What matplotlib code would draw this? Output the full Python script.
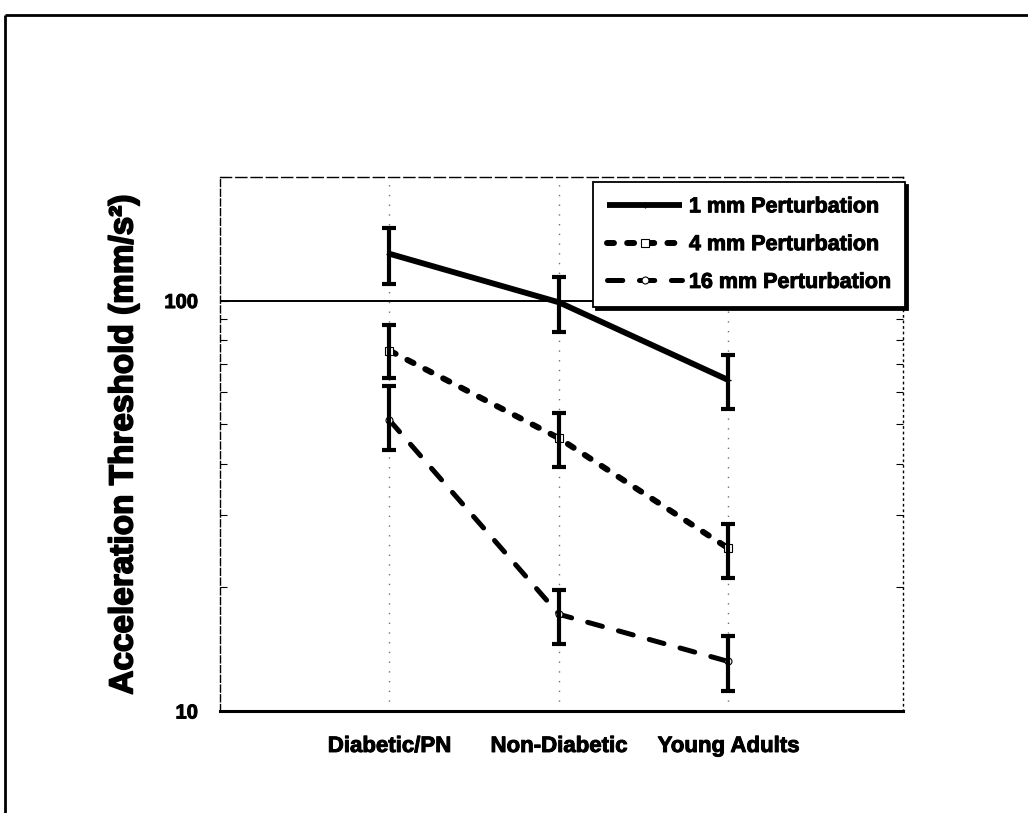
import numpy as np
import matplotlib.pyplot as plt
import matplotlib.patheffects as pe
from matplotlib.lines import Line2D
from matplotlib.ticker import FixedLocator, NullFormatter, LogLocator

plt.rcParams['font.family'] = ['Liberation Sans', 'DejaVu Sans']
plt.rcParams['font.weight'] = 'bold'
plt.rcParams['lines.scale_dashes'] = False

groups = ["Diabetic/PN", "Non-Diabetic", "Young Adults"]

# mean thresholds (mm/s^2) and error bar extents below / above the mean
mm1 = [130, 99, 64]
mm1_lo = [20, 15, 9.7]
mm1_hi = [20, 15, 9.5]

mm4 = [75.5, 46.2, 24.9]
mm4_lo = [10.9, 6.9, 3.8]
mm4_hi = [11.5, 6.9, 3.6]

mm16 = [51.1, 17.2, 13.2]
mm16_lo = [7.9, 2.6, 2.0]
mm16_hi = [10.7, 2.5, 2.0]

labels = ["1 mm Perturbation", "4 mm Perturbation", "16 mm Perturbation"]

heavy = [pe.withStroke(linewidth=0.7, foreground='black')]

fig = plt.figure(figsize=(10.28, 8.13), dpi=100)
ax = fig.add_axes([0.214, 0.1255, 0.6644, 0.6568])

x = np.arange(1, len(groups) + 1)

ax.plot(x, mm1, color='black', lw=4.2, linestyle='-', marker='+', ms=4,
        mew=1, label=labels[0], solid_capstyle='butt', zorder=3)
ax.plot(x, mm4, color='black', lw=4.3, linestyle=(0, (5, 9.5)),
        dash_capstyle='round', marker='s', ms=6, mfc='white', mec='black',
        mew=0.8, label=labels[1], zorder=3)
ax.plot(x, mm16, color='black', lw=3.6, linestyle=(0, (11, 12)),
        dash_capstyle='round', marker='o', ms=5, mfc='white', mec='black',
        mew=0.8, label=labels[2], zorder=3)

for vals, lo, hi in [(mm1, mm1_lo, mm1_hi), (mm4, mm4_lo, mm4_hi),
                     (mm16, mm16_lo, mm16_hi)]:
    ax.errorbar(x, vals, yerr=[lo, hi], fmt='none', ecolor='black',
                elinewidth=3.0, capsize=4.8, capthick=3.0, zorder=4)

ax.set_yscale('log')
ax.set_ylim(10, 200)
ax.set_xlim(0, 4.03)

ax.yaxis.set_major_locator(FixedLocator([10, 100]))
ax.yaxis.set_major_formatter(plt.FuncFormatter(lambda v, p: f"{v:g}"))
ax.yaxis.set_minor_locator(LogLocator(base=10, subs=np.arange(2, 10)))
ax.yaxis.set_minor_formatter(NullFormatter())
ax.tick_params(axis='y', which='both', direction='in', left=True,
               right=True, labelsize=14.5, pad=16, width=0.8)
ax.tick_params(axis='y', which='major', length=6)
ax.tick_params(axis='y', which='minor', length=5)

ax.set_xticks(x)
ax.set_xticklabels(groups)
ax.tick_params(axis='x', length=0, labelsize=16, pad=18)

for t in ax.get_xticklabels() + ax.get_yticklabels():
    t.set_path_effects(heavy)

ax.axhline(100, color='black', lw=1.4, zorder=1)
ax.grid(axis='x', color='0.45', linestyle=(0, (1, 6)), lw=1)

ax.spines['top'].set_linestyle((0, (8, 3)))
ax.spines['top'].set_linewidth(1.0)
ax.spines['left'].set_linestyle((0, (5, 2)))
ax.spines['left'].set_linewidth(1.0)
ax.spines['right'].set_linestyle((0, (1, 3)))
ax.spines['right'].set_linewidth(1.0)
ax.spines['bottom'].set_linewidth(2.2)

ax.set_ylabel("Acceleration Threshold (mm/s²)", fontsize=24,
              fontweight='bold', labelpad=18,
              path_effects=[pe.withStroke(linewidth=1.2, foreground='black')])

leg = ax.legend(loc='upper right', bbox_to_anchor=(1.003, 0.99),
                borderaxespad=0, fontsize=15.5, handlelength=3.5,
                labelspacing=0.78, handletextpad=0.3, borderpad=0.65,
                fancybox=False, edgecolor='black', framealpha=1,
                shadow={'color': 'black', 'alpha': 1})
leg.get_frame().set_linewidth(1.3)
for t in leg.get_texts():
    t.set_path_effects(heavy)

# page frame along the top and left edges only
fig.add_artist(Line2D([0.005, 1.0], [0.9815, 0.9815], color='black', lw=2,
                      solid_capstyle='butt'))
fig.add_artist(Line2D([0.005, 0.005], [0.0, 0.9815], color='black', lw=2,
                      solid_capstyle='butt'))
fig.patch.set_edgecolor('none')
fig.patch.set_linewidth(0)

fig.savefig('out.png', dpi=100, edgecolor='none')
